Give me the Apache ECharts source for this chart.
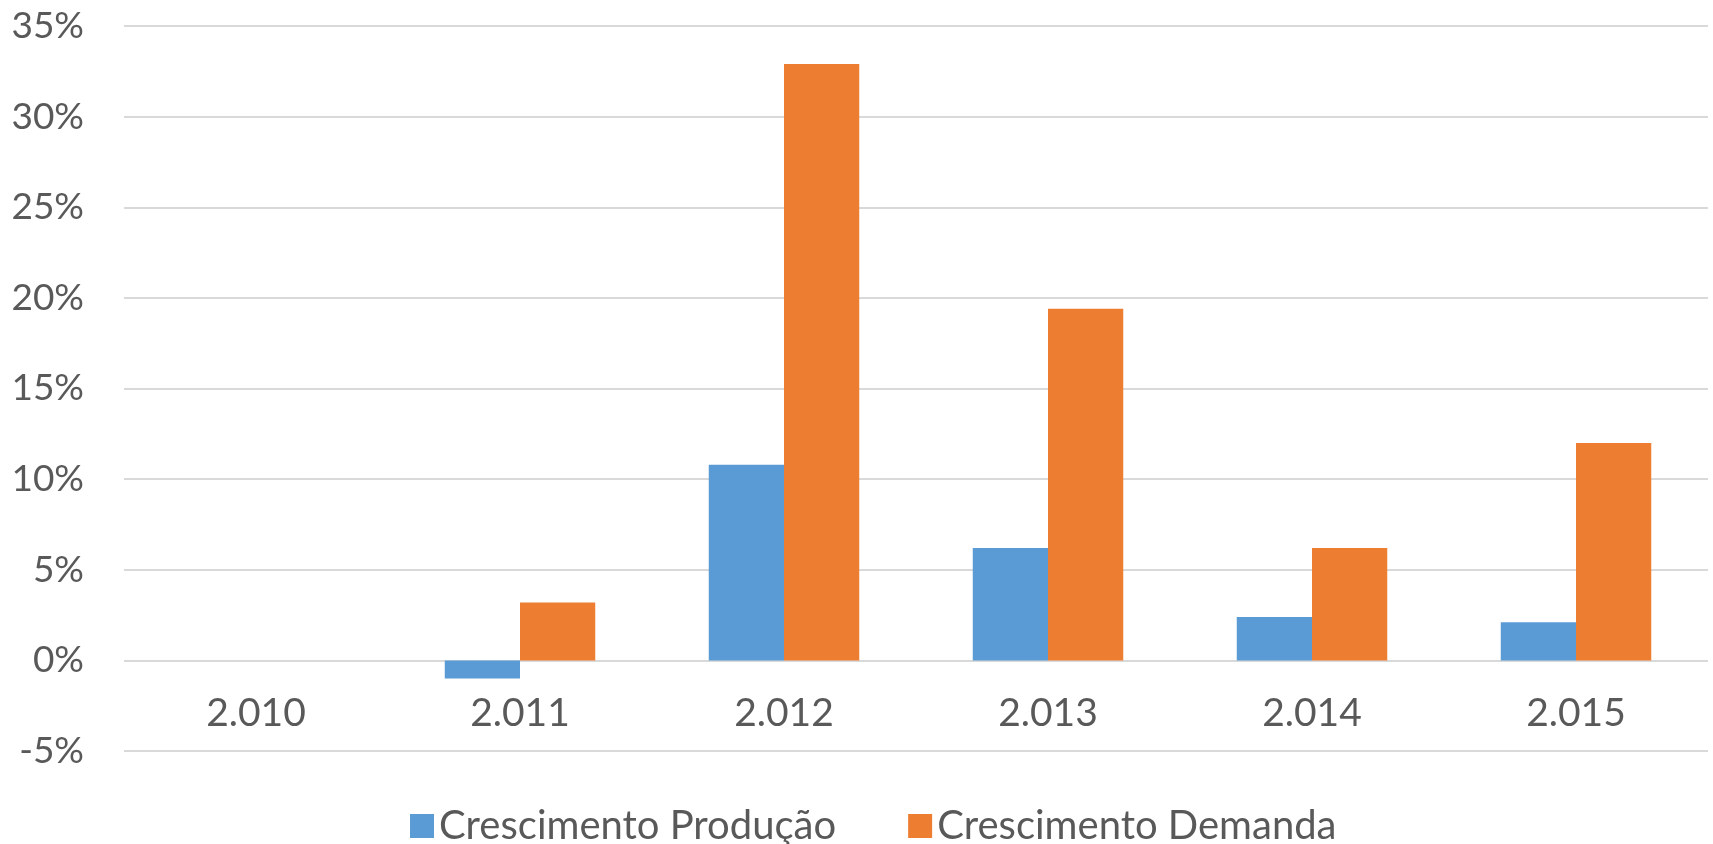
<!DOCTYPE html>
<html>
<head>
<meta charset="utf-8">
<script src="https://cdn.jsdelivr.net/npm/echarts@6/dist/echarts.min.js"></script>
<style>
  html, body { margin: 0; padding: 0; background: #fff; }
  #chart { width: 1713px; height: 844px; }
</style>
</head>
<body>
<div id="chart"></div>
<script>
var years = ['2.010', '2.011', '2.012', '2.013', '2.014', '2.015'];
// valores em %
var producao = [null, -1.0, 10.8, 6.2, 2.4, 2.1];
var demanda = [null, 3.2, 32.9, 19.4, 6.2, 12.0];

var textColor = '#595959';
var fontFamily = 'Lato, "Open Sans", sans-serif';

let chart = echarts.init(document.getElementById('chart'));
chart.setOption({
    animation: false,
    textStyle: {
        fontFamily: fontFamily
    },
    legend: {
        left: 405,
        top: 801,
        itemWidth: 24,
        itemHeight: 24,
        itemGap: 72,
        icon: 'rect',
        textStyle: {
            color: textColor,
            fontSize: 40,
            fontFamily: fontFamily
        },
        data: ['Crescimento Produção', 'Crescimento Demanda']
    },
    grid: {
        left: 124,
        right: 5,
        top: 26,
        bottom: 93
    },
    xAxis: {
        type: 'category',
        data: years,
        position: 'bottom',
        axisLine: { show: false, onZero: false },
        axisTick: { show: false },
        // rótulos entre 0% e -5%, como no original
        axisLabel: {
            color: textColor,
            fontSize: 39,
            fontFamily: fontFamily,
            margin: -57
        }
    },
    yAxis: {
        type: 'value',
        min: -5,
        max: 35,
        interval: 5,
        axisLine: { show: false },
        axisTick: { show: false },
        splitLine: {
            lineStyle: { color: '#D9D9D9', width: 2 }
        },
        axisLabel: {
            color: textColor,
            fontSize: 37,
            fontFamily: fontFamily,
            margin: 40,
            formatter: '{value}%'
        }
    },
    series: [
        {
            name: 'Crescimento Produção',
            type: 'bar',
            data: producao,
            barGap: '0%',
            barCategoryGap: '43%',
            itemStyle: { color: '#5B9BD5' }
        },
        {
            name: 'Crescimento Demanda',
            type: 'bar',
            data: demanda,
            barGap: '0%',
            barCategoryGap: '43%',
            itemStyle: { color: '#ED7D31' }
        }
    ]
});
</script>
</body>
</html>
